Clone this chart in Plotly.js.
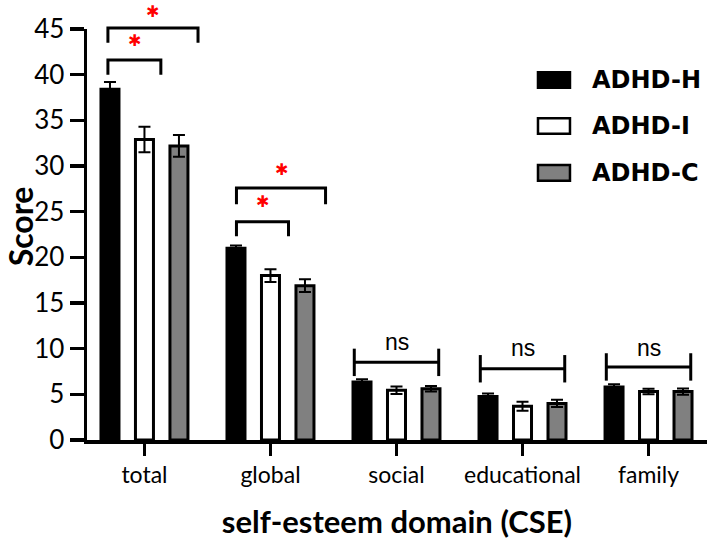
<!DOCTYPE html>
<html>
<head>
<meta charset="utf-8">
<script src="https://cdn.plot.ly/plotly-3.0.1.min.js"></script>
<style>html,body{margin:0;padding:0;background:#fff;}#chart{width:709px;height:542px;}</style>
</head>
<body>
<div id="chart"></div>
<script>
// ---- data ----
const categories = ['total', 'global', 'social', 'educational', 'family'];
const groupNames = ['ADHD-H', 'ADHD-I', 'ADHD-C'];
const adhdH = [38.4, 21.0, 6.35, 4.75, 5.8];
const adhdHErr = [0.8, 0.3, 0.3, 0.35, 0.3];
const adhdI = [32.9, 18.0, 5.45, 3.7, 5.3];
const adhdIErr = [1.4, 0.7, 0.4, 0.5, 0.3];
const adhdC = [32.2, 16.9, 5.6, 4.0, 5.3];
const adhdCErr = [1.2, 0.7, 0.3, 0.4, 0.35];
const yTickVals = [0, 5, 10, 15, 20, 25, 30, 35, 40, 45];
// significance brackets: category index, left/right, bar height, leg end, label
const sigCat = [0, 0, 1, 1];
const sigLeft = [-0.29, -0.29, -0.27, -0.27];
const sigRight = [0.13, 0.425, 0.143, 0.437];
const sigTop = [41.6, 45.1, 23.9, 27.6];
const sigLeg = [40.0, 43.5, 22.3, 25.8];
const sigStarY = [43.7, 46.9, 26.1, 29.6];
const nsCat = [2, 3, 4];
const nsBar = [8.5, 7.8, 8.0];
const nsLabelY = [10.7, 10.1, 10.1];

// ---- layout helpers ----
const yRange = [0, 45];
const yp = v => (v - yRange[0]) / (yRange[1] - yRange[0]);
const fills = ['#000000', '#ffffff', '#808080'];
const vals = [adhdH, adhdI, adhdC];
const errs = [adhdHErr, adhdIErr, adhdCErr];

const traces = groupNames.map((n, i) => ({
  type: 'bar', name: n, x: categories, y: vals[i],
  marker: {color: fills[i], line: {color: '#000', width: 3}},
  error_y: {type: 'data', array: errs[i], visible: true, color: '#000', thickness: 2, width: 6},
  showlegend: false, hoverinfo: 'skip'
}));

const shapes = [];
const annotations = [];
const lineStyle = {color: '#000', width: 3};
for (let k = 0; k < sigCat.length; k++) {
  const c = sigCat[k];
  shapes.push({type: 'path', xref: 'x', yref: 'paper', line: lineStyle,
    path: `M${c + sigLeft[k]},${yp(sigLeg[k])} L${c + sigLeft[k]},${yp(sigTop[k])} L${c + sigRight[k]},${yp(sigTop[k])} L${c + sigRight[k]},${yp(sigLeg[k])}`});
  annotations.push({xref: 'x', yref: 'paper', x: c + (sigLeft[k] + sigRight[k]) / 2, y: yp(sigStarY[k]),
    text: '\u2731', showarrow: false, font: {family: 'DejaVu Sans', size: 16, color: '#ff0000'}, yanchor: 'middle'});
}
for (let k = 0; k < nsCat.length; k++) {
  const c = nsCat[k];
  const x0 = c - 0.335, x1 = c + 0.335;
  shapes.push({type: 'line', xref: 'x', yref: 'paper', x0: x0, x1: x1, y0: yp(nsBar[k]), y1: yp(nsBar[k]), line: lineStyle});
  shapes.push({type: 'line', xref: 'x', yref: 'paper', x0: x0, x1: x0, y0: yp(nsBar[k] - 1.5), y1: yp(nsBar[k] + 1.5), line: lineStyle});
  shapes.push({type: 'line', xref: 'x', yref: 'paper', x0: x1, x1: x1, y0: yp(nsBar[k] - 1.5), y1: yp(nsBar[k] + 1.5), line: lineStyle});
  annotations.push({xref: 'x', yref: 'paper', x: c, y: yp(nsLabelY[k]), text: 'ns', showarrow: false,
    font: {family: 'Liberation Sans', size: 23, color: '#000'}, yanchor: 'middle'});
}
// legend (drawn manually to match the wide swatches)
const legY = [0.876, 0.764, 0.650];
groupNames.forEach((n, i) => {
  shapes.push({type: 'rect', xref: 'paper', yref: 'paper', x0: 0.7274, x1: 0.7790,
    y0: legY[i] - 0.019, y1: legY[i] + 0.019, fillcolor: fills[i], line: {color: '#000', width: 2.5}});
  annotations.push({xref: 'paper', yref: 'paper', x: 0.8113, y: legY[i], xanchor: 'left', yanchor: 'middle',
    text: '<b>' + n + '</b>', showarrow: false, font: {family: 'DejaVu Sans', size: 24, color: '#000'}});
});
// y-axis title
annotations.push({xref: 'paper', yref: 'paper', x: -0.106, y: 0.5207, xanchor: 'center', yanchor: 'middle',
  textangle: -90, text: '<b>Score</b>', showarrow: false, font: {family: 'Lato', size: 32, color: '#000'}});

const layout = {
  width: 709, height: 542,
  margin: {l: 87, r: 2, t: 29, b: 102},
  paper_bgcolor: '#fff', plot_bgcolor: '#fff',
  barmode: 'group', bargap: 0.179, bargroupgap: 0.478,
  font: {family: 'Lato', color: '#000'},
  xaxis: {
    type: 'category', range: [-0.456, 4.464],
    showline: true, linecolor: '#000', linewidth: 3.5,
    ticks: 'outside', ticklen: 12, tickwidth: 3.5, tickcolor: '#000',
    tickfont: {family: 'Lato', size: 23, color: '#000'},
    showgrid: false, zeroline: false,
    title: {text: '<b>self-esteem domain (CSE)</b>', font: {family: 'Lato', size: 31, color: '#000'}, standoff: 25}
  },
  yaxis: {
    range: yRange, tickvals: yTickVals,
    showline: true, linecolor: '#000', linewidth: 3.5,
    ticks: 'outside', ticklen: 14, tickwidth: 3.5, tickcolor: '#000',
    tickfont: {family: 'Lato', size: 26, color: '#000'},
    showgrid: false, zeroline: false
  },
  shapes: shapes, annotations: annotations, showlegend: false
};

Plotly.newPlot('chart', traces, layout, {staticPlot: true, displayModeBar: false});
</script>
</body>
</html>
